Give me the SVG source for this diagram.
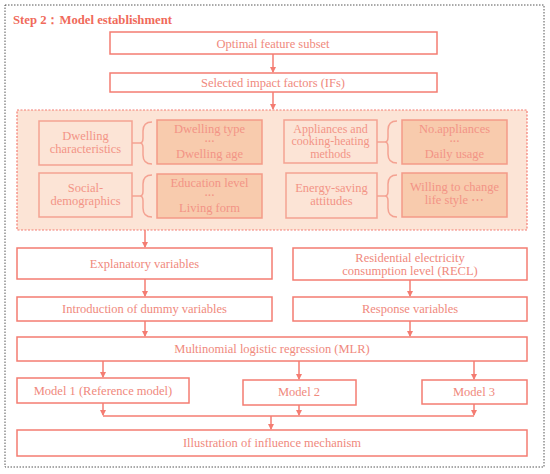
<svg xmlns="http://www.w3.org/2000/svg" width="550" height="474" viewBox="0 0 550 474">
<style>
.t{font-family:"Liberation Serif","DejaVu Serif",serif;font-size:12.5px;fill:#F0897D;text-anchor:middle}
.ti{font-family:"Liberation Serif","DejaVu Serif",serif;font-size:12.5px;fill:#F39486;text-anchor:middle}
.tx{font-family:"Liberation Serif","DejaVu Serif",serif;font-size:12px;fill:#F39486;text-anchor:middle}
.el{font-family:"Liberation Serif","DejaVu Serif",serif;font-size:10px;font-weight:bold;fill:#F39486;text-anchor:middle}
.box{fill:#FFFFFF;stroke:#F47C72;stroke-width:1.5}
.lt{fill:#FCE4D6;stroke:#F4A292;stroke-width:1.5}
.dk{fill:#F8CBAD;stroke:#F49A88;stroke-width:1.5}
.c{fill:none;stroke:#F47C72;stroke-width:1.5}
.br{fill:none;stroke:#F4A292;stroke-width:1.5}
</style>
<defs>
<marker id="ah" markerWidth="6" markerHeight="6" refX="5" refY="3" orient="auto" markerUnits="userSpaceOnUse">
<path d="M0,0 L6,3 L0,6 Z" fill="#F47C72"/>
</marker>
</defs>
<rect x="5" y="5" width="539" height="462" fill="#FFFFFF" stroke="#555" stroke-width="1" stroke-dasharray="1.5,1.5"/>
<text x="13" y="24" font-family="Liberation Serif,DejaVu Serif,serif" font-size="12.7" font-weight="bold" fill="#F06A5A">Step 2：Model establishment</text>

<g id="n-optimal"><rect class="box" x="110" y="32" width="327" height="22"/><text class="t" x="273" y="47.5">Optimal feature subset</text></g>
<g id="n-selected"><rect class="box" x="110" y="73" width="327" height="19"/><text class="t" x="273" y="87">Selected impact factors (IFs)</text></g>

<g id="n-ifs">
<rect x="17" y="110" width="510" height="120" fill="#FCE4D6" stroke="#F47C72" stroke-width="1.2" stroke-dasharray="2,1.5"/>
<g id="n-dwelling"><rect class="lt" x="39" y="121" width="93" height="44"/><text class="ti" x="85.5" y="140">Dwelling<tspan x="85.5" dy="13">characteristics</tspan></text></g>
<path class="br" d="M132,143 H140 M152,122 Q143,122 143,131 V138 Q143,143 140,143 Q143,143 143,148 V155 Q143,164 152,164"/>
<g id="n-dwelling-vars"><rect class="dk" x="157" y="120" width="105" height="44"/><text class="ti" x="209.5" y="132.5">Dwelling type</text><text class="el" x="209.5" y="144.5">···</text><text class="ti" x="209.5" y="158">Dwelling age</text></g>

<g id="n-social"><rect class="lt" x="39" y="173" width="93" height="44"/><text class="ti" x="85.5" y="192">Social-<tspan x="85.5" dy="13">demographics</tspan></text></g>
<path class="br" d="M132,196 H140 M152,175 Q143,175 143,184 V191 Q143,196 140,196 Q143,196 143,201 V208 Q143,217 152,217"/>
<g id="n-social-vars"><rect class="dk" x="157" y="174" width="105" height="44"/><text class="ti" x="209.5" y="186.5">Education level</text><text class="el" x="209.5" y="198.5">···</text><text class="ti" x="209.5" y="212">Living form</text></g>

<g id="n-appliances"><rect class="lt" x="284" y="120" width="93" height="43"/><text class="tx" x="330.5" y="132.5">Appliances and<tspan x="330.5" dy="12.5">cooking-heating</tspan><tspan x="330.5" dy="13">methods</tspan></text></g>
<path class="br" d="M377,142 H385 M397,121 Q388,121 388,130 V137 Q388,142 385,142 Q388,142 388,147 V154 Q388,163 397,163"/>
<g id="n-appliance-vars"><rect class="dk" x="402" y="120" width="105" height="44"/><text class="ti" x="454.5" y="132.5">No.appliances</text><text class="el" x="454.5" y="144.5">···</text><text class="ti" x="454.5" y="158">Daily usage</text></g>

<g id="n-energy"><rect class="lt" x="286" y="173" width="91" height="45"/><text class="ti" x="331.5" y="192">Energy-saving<tspan x="331.5" dy="13">attitudes</tspan></text></g>
<path class="br" d="M377,196 H385 M397,175 Q388,175 388,184 V191 Q388,196 385,196 Q388,196 388,201 V208 Q388,217 397,217"/>
<g id="n-energy-vars"><rect class="dk" x="402" y="173" width="105" height="44"/><text class="ti" x="454.5" y="191">Willing to change<tspan x="454.5" dy="13">life style ⋯</tspan></text></g>
</g>

<g id="n-explanatory"><rect class="box" x="17" y="248" width="255" height="31"/><text class="t" x="144.5" y="268">Explanatory variables</text></g>
<g id="n-dummy"><rect class="box" x="17" y="297" width="255" height="24"/><text class="t" x="144.5" y="313">Introduction of dummy variables</text></g>
<g id="n-recl"><rect class="box" x="293" y="248" width="234" height="32"/><text class="t" x="410" y="262">Residential electricity<tspan x="410" dy="12.5">consumption level (RECL)</tspan></text></g>
<g id="n-response"><rect class="box" x="293" y="297" width="234" height="24"/><text class="t" x="410" y="313">Response variables</text></g>
<g id="n-mlr"><rect class="box" x="17" y="337" width="510" height="24"/><text class="t" x="272" y="353">Multinomial logistic regression (MLR)</text></g>
<g id="n-model1"><rect class="box" x="17" y="378" width="172" height="25"/><text class="t" x="103" y="395">Model 1 (Reference model)</text></g>
<g id="n-model2"><rect class="box" x="243" y="380" width="113" height="25"/><text class="t" x="299" y="396">Model 2</text></g>
<g id="n-model3"><rect class="box" x="422" y="380" width="105" height="24"/><text class="t" x="474" y="396">Model 3</text></g>
<g id="n-illustration"><rect class="box" x="17" y="430" width="510" height="26"/><text class="t" x="272" y="447">Illustration of influence mechanism</text></g>

<g id="connectors">
<path class="c" d="M273,54 V72" marker-end="url(#ah)"/>
<path class="c" d="M273,92 V109" marker-end="url(#ah)"/>
<path class="c" d="M145,230 V247" marker-end="url(#ah)"/>
<path class="c" d="M145,279 V296" marker-end="url(#ah)"/>
<path class="c" d="M145,321 V336" marker-end="url(#ah)"/>
<path class="c" d="M410,280 V296" marker-end="url(#ah)"/>
<path class="c" d="M410,321 V336" marker-end="url(#ah)"/>
<path class="c" d="M103,361 V377" marker-end="url(#ah)"/>
<path class="c" d="M299,361 V379" marker-end="url(#ah)"/>
<path class="c" d="M474,361 V379" marker-end="url(#ah)"/>
<path class="c" d="M103,403 V415" marker-end="url(#ah)"/>
<path class="c" d="M299,405 V415" marker-end="url(#ah)"/>
<path class="c" d="M474,404 V415" marker-end="url(#ah)"/>
<path class="c" d="M103,416 H474"/>
<path class="c" d="M271,416 V429" marker-end="url(#ah)"/>
</g>
</svg>
